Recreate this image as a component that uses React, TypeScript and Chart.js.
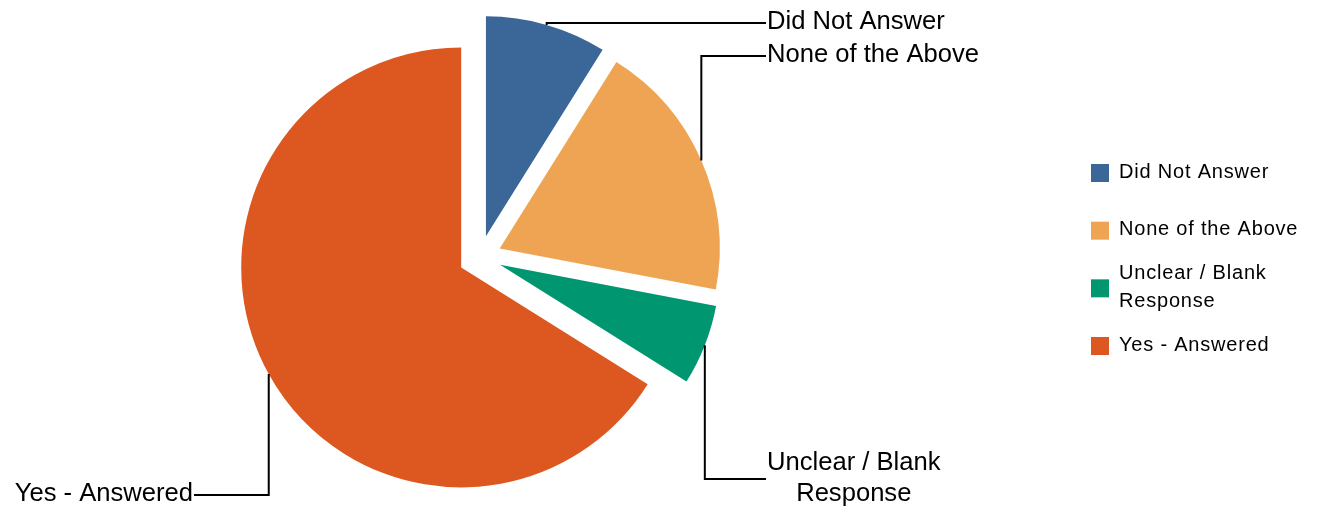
import React, { useEffect, useRef } from 'react';
import { Chart, registerables } from 'chart.js';

Chart.register(...registerables);

// ---- data ----
const categories = ['Did Not Answer', 'None of the Above', 'Unclear / Blank Response', 'Yes - Answered'];
const values = [8.9, 19.1, 5.9, 66.1];
const colors = ['#3B6698', '#EFA453', '#009670', '#DD5820'];
const calloutText = [['Did Not Answer'], ['None of the Above'], ['Unclear / Blank', 'Response'], ['Yes - Answered']];
const legendText = [['Did Not Answer'], ['None of the Above'], ['Unclear / Blank', 'Response'], ['Yes - Answered']];

// ---- layout ----
const W = 1318;
const H = 511;
const RADIUS = 220;
const EXPLODE = 21.5;
const FONT = '"Liberation Sans", Arial, sans-serif';
// callout anchors: side 'right' => label starts at x; side 'left' => label ends at x
const calloutAnchors = [
  { x: 767, y: 23, side: 'right' },
  { x: 767, y: 56, side: 'right' },
  { x: 767, y: 479, side: 'right' },
  { x: 193, y: 495, side: 'left' },
];
const legendLayout = { boxX: 1091, box: 18, textX: 1119, firstY: 173, step: 57.67, lineH: 28 };

const explodePlugin = {
  id: 'explode',
  afterDatasetsUpdate(chart: any) {
    const meta = chart.getDatasetMeta(0);
    meta.data.forEach((arc: any) => {
      const mid = (arc.startAngle + arc.endAngle) / 2;
      arc.x += Math.cos(mid) * EXPLODE;
      arc.y += Math.sin(mid) * EXPLODE;
    });
  },
};

const calloutPlugin = {
  id: 'callouts',
  afterDatasetsDraw(chart: any) {
    const ctx = chart.ctx;
    const meta = chart.getDatasetMeta(0);
    ctx.save();
    meta.data.forEach((arc: any, i: number) => {
      const a = calloutAnchors[i];
      const mid = (arc.startAngle + arc.endAngle) / 2;
      const px = arc.x + Math.cos(mid) * arc.outerRadius;
      const py = arc.y + Math.sin(mid) * arc.outerRadius;
      ctx.strokeStyle = '#000';
      ctx.lineWidth = 2;
      ctx.beginPath();
      ctx.moveTo(px, py);
      ctx.lineTo(px, a.y);
      ctx.lineTo(a.side === 'right' ? a.x - 1 : a.x + 1, a.y);
      ctx.stroke();

      ctx.font = `25.6px ${FONT}`;
      ctx.fillStyle = '#000';
      ctx.textBaseline = 'middle';
      ctx.textAlign = 'center';
      const lines = calloutText[i];
      const widths = lines.map((l) => ctx.measureText(l).width);
      const bw = Math.max(...widths);
      const left = a.side === 'right' ? a.x : a.x - bw;
      const lh = 31;
      const top = a.y - ((lines.length - 1) * lh) / 2 - 1;
      lines.forEach((l, j) => {
        ctx.fillText(l, left + bw / 2, top + j * lh);
      });
    });
    ctx.restore();
  },
};

const legendPlugin = {
  id: 'customLegend',
  afterDraw(chart: any) {
    const ctx = chart.ctx;
    const L = legendLayout;
    ctx.save();
    ctx.font = `20px ${FONT}`;
    (ctx as any).letterSpacing = '0.8px';
    ctx.textBaseline = 'middle';
    ctx.textAlign = 'left';
    legendText.forEach((lines, i) => {
      const cy = L.firstY + i * L.step;
      ctx.fillStyle = colors[i];
      ctx.fillRect(L.boxX, cy - L.box / 2, L.box, L.box);
      ctx.fillStyle = '#000';
      const top = cy - ((lines.length - 1) * L.lineH) / 2 - 1;
      lines.forEach((l, j) => ctx.fillText(l, L.textX, top + j * L.lineH));
    });
    ctx.restore();
  },
};

export default function App() {
  const ref = useRef<HTMLCanvasElement | null>(null);
  useEffect(() => {
    if (!ref.current) return;
    const cx = 480;
    const cy = 257;
    const chart = new Chart(ref.current, {
      type: 'pie',
      data: {
        labels: categories,
        datasets: [
          {
            data: values,
            backgroundColor: colors,
            borderWidth: 0,
          },
        ],
      },
      options: {
        responsive: false,
        animation: false,
        radius: RADIUS,
        layout: {
          padding: { left: 0, right: W - 2 * cx, top: 2 * cy - H, bottom: 0 },
        },
        plugins: {
          legend: { display: false },
          tooltip: { enabled: false },
        },
        events: [],
      } as any,
      plugins: [explodePlugin, calloutPlugin, legendPlugin],
    });
    return () => chart.destroy();
  }, []);
  return (
    <div style={{ position: 'fixed', left: 0, top: 0, width: W, height: H, background: '#fff' }}>
      <canvas ref={ref} width={W} height={H} style={{ width: W, height: H, display: 'block' }} />
    </div>
  );
}
